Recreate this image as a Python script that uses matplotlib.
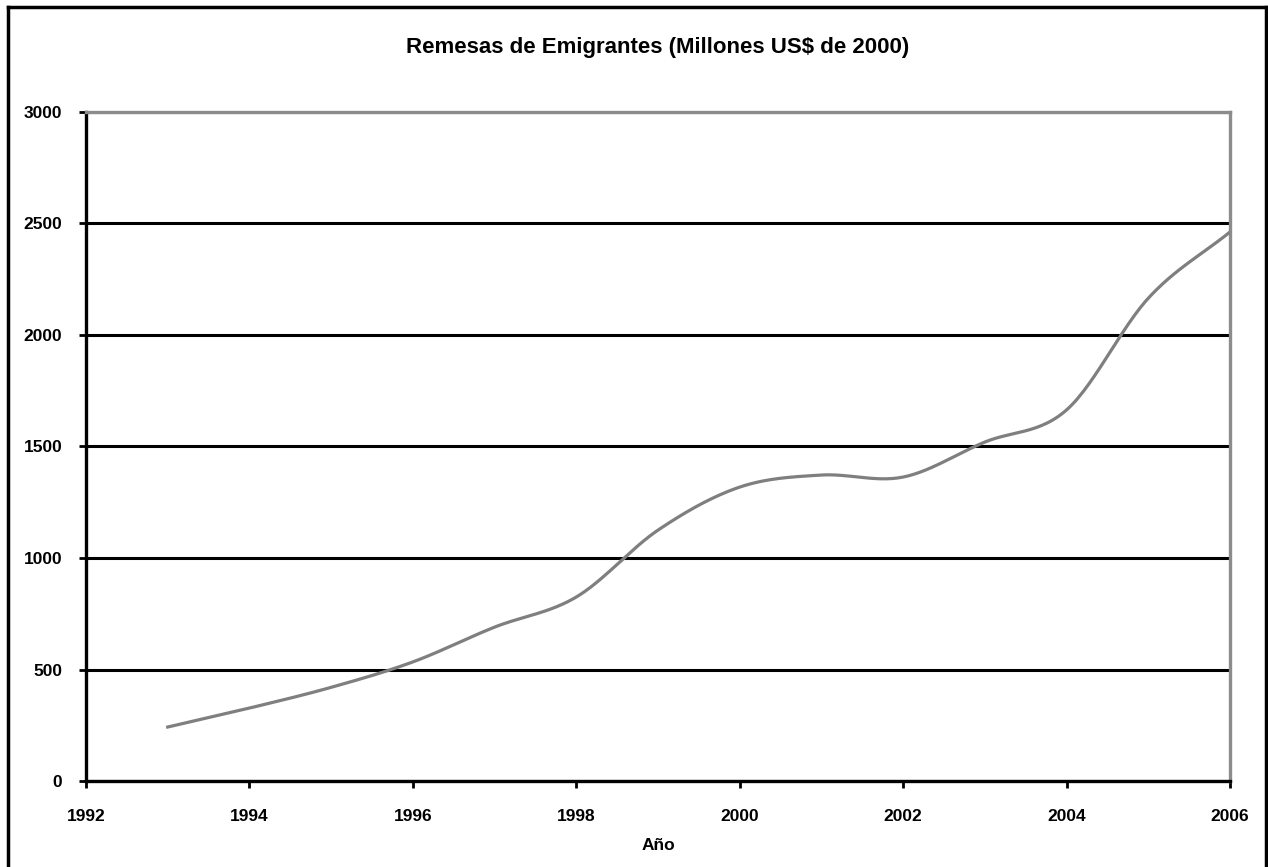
import numpy as np
import matplotlib
matplotlib.use("Agg")
import matplotlib.pyplot as plt
from matplotlib.lines import Line2D

# data
years = [1993, 1994, 1995, 1996, 1997, 1998, 1999, 2000, 2001, 2002, 2003, 2004, 2005, 2006]
remesas = [242, 327, 420, 534, 690, 825, 1125, 1318, 1372, 1363, 1520, 1664, 2165, 2462]

title = "Remesas de Emigrantes (Millones US$ de 2000)"
xlabel = "Año"
xticks = [1992, 1994, 1996, 1998, 2000, 2002, 2004, 2006]
yticks = [0, 500, 1000, 1500, 2000, 2500, 3000]


def smooth(x, y, n=30):
	# Catmull-Rom style smoothing, like Excel's smoothed line
	x = np.asarray(x, float)
	y = np.asarray(y, float)
	px = np.concatenate([[2 * x[0] - x[1]], x, [2 * x[-1] - x[-2]]])
	py = np.concatenate([[2 * y[0] - y[1]], y, [2 * y[-1] - y[-2]]])
	xs, ys = [], []
	t = np.linspace(0, 1, n)
	for i in range(1, len(px) - 2):
		for p, out in ((px, xs), (py, ys)):
			p0, p1, p2, p3 = p[i - 1], p[i], p[i + 1], p[i + 2]
			out.extend(0.5 * ((2 * p1) + (-p0 + p2) * t
					+ (2 * p0 - 5 * p1 + 4 * p2 - p3) * t ** 2
					+ (-p0 + 3 * p1 - 3 * p2 + p3) * t ** 3))
	return np.array(xs), np.array(ys)


plt.rcParams['font.family'] = ['Liberation Sans', 'DejaVu Sans']
plt.rcParams['font.weight'] = 'bold'

W, H = 1268, 867
fig = plt.figure(figsize=(W / 100, H / 100), dpi=100)
ax = fig.add_axes([86 / W, 1 - 781 / H, (1230 - 86) / W, (781 - 112) / H])

sx, sy = smooth(years, remesas)
ax.plot(sx, sy, color="#7f7f7f", linewidth=2.3, zorder=3)

ax.set_xlim(1992, 2006)
ax.set_ylim(0, 3000)
ax.set_xticks(xticks)
ax.set_yticks(yticks)
ax.tick_params(axis='both', labelsize=12.5, width=2, length=5, color='black')
ax.tick_params(axis='y', pad=12)
ax.tick_params(axis='x', pad=15)
for lab in ax.get_xticklabels() + ax.get_yticklabels():
	lab.set_fontweight('bold')

ax.yaxis.grid(True, color='black', linewidth=2.2)
ax.set_axisbelow(True)

for s in ['left', 'bottom']:
	ax.spines[s].set_color('black')
	ax.spines[s].set_linewidth(2.4)
for s in ['top', 'right']:
	ax.spines[s].set_color('#8c8c8c')
	ax.spines[s].set_linewidth(2.4)

ax.set_xlabel(xlabel, fontsize=12.5, fontweight='bold', labelpad=10)
fig.text(0.5 * (86 + 1230) / W, 1 - 47 / H, title, ha='center', va='center',
		 fontsize=16, fontweight='bold')

# outer chart border (cut off at the bottom)
bx0, bx1, by0 = 8 / W, 1266 / W, 1 - 7 / H
for xs_, ys_ in (([bx0, bx0], [0, by0]), ([bx0, bx1], [by0, by0]), ([bx1, bx1], [by0, 0])):
	fig.add_artist(Line2D(xs_, ys_, color='black', linewidth=2.5))

fig.savefig("out.png", dpi=100)
